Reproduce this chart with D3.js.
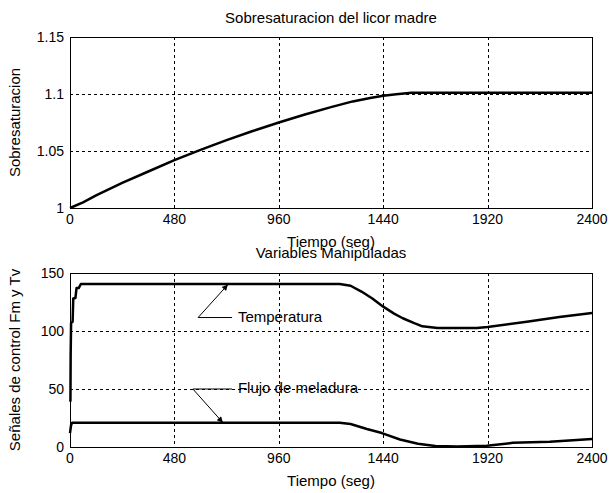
<!DOCTYPE html>
<html>
<head>
<meta charset="utf-8">
<script src="https://cdn.jsdelivr.net/npm/d3@7"></script>
<style>
  body { margin: 0; background: #fff; }
  text { font-family: "Liberation Sans", Arial, sans-serif; fill: #000; }
</style>
</head>
<body>
<div id="chart"></div>
<script>
// sobresaturacion del licor madre
var satTime  = [0, 60, 120, 240, 360, 480, 600, 720, 840, 960, 1080, 1200, 1300, 1380, 1440, 1500, 1570, 1700, 1920, 2400];
var satValue = [1.0, 1.005, 1.011, 1.022, 1.032, 1.042, 1.051, 1.0595, 1.0675, 1.075, 1.082, 1.0885, 1.0935, 1.0965, 1.0985, 1.0997, 1.101, 1.101, 1.101, 1.101];

// variables manipuladas
var tempTime  = [0, 2, 3, 5, 12, 15, 25, 30, 40, 50, 1240, 1290, 1340, 1390, 1440, 1490, 1530, 1580, 1620, 1690, 1780, 1870, 1920, 2100, 2250, 2400];
var tempValue = [39, 40, 79, 107, 108, 128, 128.5, 137, 137, 140.5, 140.5, 139, 134, 128, 121, 115, 111, 107, 104, 102.5, 102.5, 102.5, 103.5, 108, 112, 115.5];

var flujoTime  = [0, 5, 10, 1240, 1290, 1365, 1434, 1517, 1600, 1680, 1780, 1917, 2036, 2206, 2400];
var flujoValue = [12, 19, 21, 21, 19.8, 15.5, 12, 6.5, 2.8, 0.8, 0.5, 1, 3.6, 4.5, 7];

var xTicks = [0, 480, 960, 1440, 1920, 2400];
var satTicks = [1, 1.05, 1.1, 1.15];
var ctrlTicks = [0, 50, 100, 150];

// annotations: [label, textT, textV, tailT, tailV, headT, headV, lineEndT]
var notes = [
  ["Temperatura", 772, 112, 589, 111.6, 726, 140, 745],
  ["Flujo de meladura", 772, 51, 565, 50, 703, 21, 745]
];

var W = 609, H = 493;
var left = 70, right = 592;
var tickSize = "14px", labelSize = "15px";

var svg = d3.select("#chart")
    .append("svg")
    .attr("width", W)
    .attr("height", H);

svg.append("defs").append("marker")
    .attr("id", "head")
    .attr("viewBox", "0 0 10 10")
    .attr("refX", 10)
    .attr("refY", 5)
    .attr("markerWidth", 9)
    .attr("markerHeight", 6)
    .attr("markerUnits", "userSpaceOnUse")
    .attr("orient", "auto")
    .append("path")
    .attr("d", "M0,0 L10,5 L0,10 z")
    .attr("fill", "#000");

var x = d3.scaleLinear().domain([0, 2400]).range([left, right]);

// draws one axes box with grid and tick labels
function panel(top, bottom, y, yTicks, yFmt) {
    var g = svg.append("g");

    // grid
    g.selectAll(".vg").data(xTicks.slice(1, -1)).enter()
        .append("line")
        .attr("x1", function(d){ return Math.round(x(d)) + 0.5; })
        .attr("x2", function(d){ return Math.round(x(d)) + 0.5; })
        .attr("y1", top).attr("y2", bottom)
        .attr("stroke", "#000").attr("stroke-dasharray", "3,3");
    g.selectAll(".hg").data(yTicks.slice(1, -1)).enter()
        .append("line")
        .attr("x1", left).attr("x2", right)
        .attr("y1", function(d){ return Math.round(y(d)) + 0.5; })
        .attr("y2", function(d){ return Math.round(y(d)) + 0.5; })
        .attr("stroke", "#000").attr("stroke-dasharray", "3,3");

    // frame
    g.append("rect")
        .attr("x", left + 0.5).attr("y", top + 0.5)
        .attr("width", right - left).attr("height", bottom - top)
        .attr("fill", "none").attr("stroke", "#000");

    // tick labels
    g.selectAll(".xt").data(xTicks).enter()
        .append("text")
        .attr("x", function(d){ return x(d); })
        .attr("y", bottom + 16)
        .attr("text-anchor", "middle")
        .attr("font-size", tickSize)
        .text(function(d){ return d; });
    g.selectAll(".yt").data(yTicks).enter()
        .append("text")
        .attr("x", left - 6)
        .attr("y", function(d){ return y(d) + 5; })
        .attr("text-anchor", "end")
        .attr("font-size", tickSize)
        .text(yFmt);
    return g;
}

function series(g, xs, ys, y) {
    var line = d3.line()
        .x(function(d){ return x(d[0]); })
        .y(function(d){ return y(d[1]); });
    g.append("path")
        .datum(xs.map(function(t, i){ return [t, ys[i]]; }))
        .attr("d", line)
        .attr("fill", "none")
        .attr("stroke", "#000")
        .attr("stroke-width", 2.5)
        .attr("stroke-linejoin", "round");
}

// ---- top axes
var ySat = d3.scaleLinear().domain([1, 1.15]).range([208, 37]);
var g1 = panel(37, 208, ySat, satTicks, function(d){ return d3.format("~g")(d); });
series(g1, satTime, satValue, ySat);

svg.append("text")
    .attr("x", (left + right) / 2).attr("y", 23)
    .attr("text-anchor", "middle").attr("font-size", labelSize)
    .text("Sobresaturacion del licor madre");
svg.append("text")
    .attr("x", (left + right) / 2).attr("y", 247)
    .attr("text-anchor", "middle").attr("font-size", labelSize)
    .text("Tiempo (seg)");
svg.append("text")
    .attr("transform", "translate(20," + (37 + 208) / 2 + ") rotate(-90)")
    .attr("text-anchor", "middle").attr("font-size", labelSize)
    .text("Sobresaturacion");

// ---- bottom axes
var yCtrl = d3.scaleLinear().domain([0, 150]).range([447, 273]);
var g2 = panel(273, 447, yCtrl, ctrlTicks, function(d){ return d; });
series(g2, tempTime, tempValue, yCtrl);
series(g2, flujoTime, flujoValue, yCtrl);

svg.append("text")
    .attr("x", (left + right) / 2).attr("y", 258)
    .attr("text-anchor", "middle").attr("font-size", labelSize)
    .text("Variables Manipuladas");
svg.append("text")
    .attr("x", (left + right) / 2).attr("y", 486)
    .attr("text-anchor", "middle").attr("font-size", labelSize)
    .text("Tiempo (seg)");
svg.append("text")
    .attr("transform", "translate(20," + (273 + 447) / 2 + ") rotate(-90)")
    .attr("text-anchor", "middle").attr("font-size", labelSize)
    .text("Señales de control Fm y Tv");

// annotations
notes.forEach(function(n){
    svg.append("line")
        .attr("x1", x(n[3])).attr("y1", yCtrl(n[4]))
        .attr("x2", x(n[7])).attr("y2", yCtrl(n[4]))
        .attr("stroke", "#000");
    svg.append("line")
        .attr("x1", x(n[3])).attr("y1", yCtrl(n[4]))
        .attr("x2", x(n[5])).attr("y2", yCtrl(n[6]))
        .attr("stroke", "#000")
        .attr("marker-end", "url(#head)");
    svg.append("text")
        .attr("x", x(n[1])).attr("y", yCtrl(n[2]) + 5)
        .attr("font-size", labelSize)
        .text(n[0]);
});
</script>
</body>
</html>
